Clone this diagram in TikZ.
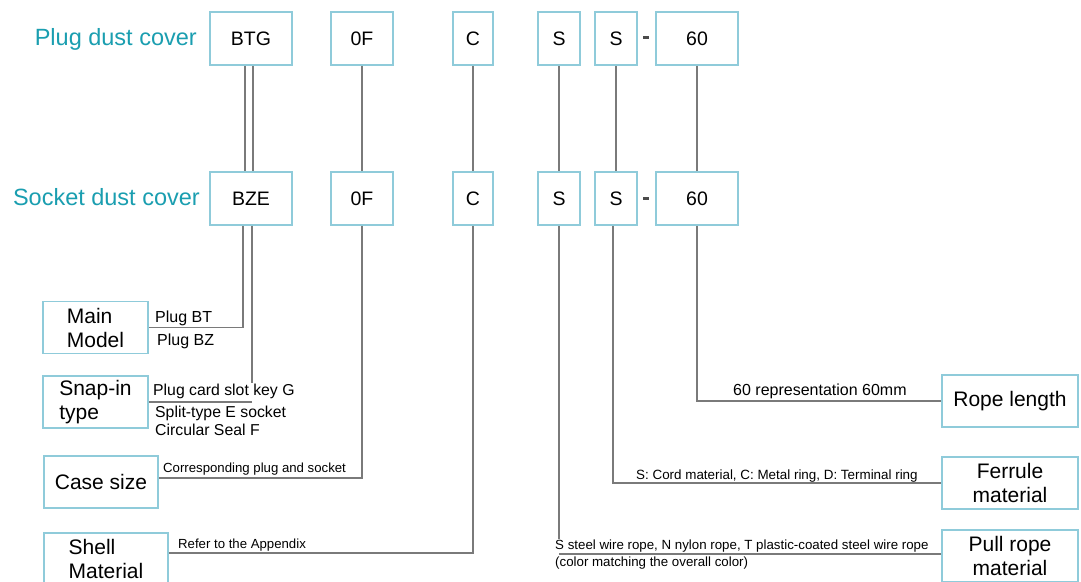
\documentclass[tikz,border=0pt]{standalone}
\usepackage{fontspec}
\setmainfont{Liberation Sans}
\usepackage{xcolor}
\usepackage{tikz}
\usetikzlibrary{positioning,calc}
\definecolor{cT}{HTML}{1A9EB0}
\definecolor{cB}{HTML}{8FCBDA}
\definecolor{cL}{HTML}{7A7A7A}
\tikzset{codebox/.style={draw=cB,line width=1.6pt,inner sep=0pt,minimum height=53pt,font=\fontsize{19.5}{22}\selectfont},
  descbox/.style={draw=cB,line width=1.6pt,inner sep=0pt,minimum height=52pt,font=\fontsize{21}{24}\selectfont},
  lead/.style={draw=cL,line width=1.4pt},
  tag/.style={anchor=base west,inner sep=0pt},
  dashmark/.style={fill=black!70,minimum width=6pt,minimum height=3pt,inner sep=0pt},
  title/.style={anchor=base east,inner sep=0pt,text=cT,font=\fontsize{23.5}{26}\selectfont}}

\begin{document}
\begin{tikzpicture}[x=1pt,y=-1pt]
  \useasboundingbox[fill=white] (0,0) rectangle (1081,581);
  % code rows
  \node[title] (plug) at (197,45) {Plug dust cover};
  \node[title] (sock) at (200,205) {Socket dust cover};
  \foreach \n/\x/\w/\t in {btg/251/82/BTG, fzt/362/62/0F, ct/473/40/C, sat/559/42/S, sbt/616/42/S, lt/697/82/60}
    \node[codebox,minimum width=\w pt] (\n) at (\x,38.5) {\t};
  \foreach \n/\x/\w/\t in {bze/251/82/BZE, fzb/362/62/0F, cb/473/40/C, sab/559/42/S, sbb/616/42/S, lb/697/82/60}
    \node[codebox,minimum width=\w pt] (\n) at (\x,198.5) {\t};
  \node[dashmark] (dt) at (646,37) {};
  \node[dashmark] (db) at (646,198) {};
  % description boxes
  \node[descbox,minimum width=105pt,align=left] (mainm) at (95.5,327.5) {Main\\Model};
  \node[descbox,minimum width=105pt,align=left] (snap) at (95.5,402) {Snap-in\\type};
  \node[descbox,minimum width=114pt] (csize) at (101,482) {Case size};
  \node[descbox,minimum width=124pt,align=left] (shell) at (106,559) {Shell\\Material};
  \node[descbox,minimum width=136pt] (rlen) at (1010,401) {Rope length};
  \node[descbox,minimum width=136pt,align=center] (ferr) at (1010,483) {Ferrule\\material};
  \node[descbox,minimum width=136pt,align=center] (pull) at (1010,556) {Pull rope\\material};
  % labels
  \node[tag,font=\fontsize{16}{18}\selectfont] (pbt) at (155,322.7) {Plug BT};
  \node[tag,font=\fontsize{16}{18}\selectfont] (pbz) at (157,345.7) {Plug BZ};
  \node[tag,font=\fontsize{15.8}{18}\selectfont] (sg) at (153,395) {Plug card slot key G};
  \node[tag,font=\fontsize{15.8}{18}\selectfont] (se) at (155,417) {Split-type E socket};
  \node[tag,font=\fontsize{15.8}{18}\selectfont] (sf) at (155,435.7) {Circular Seal F};
  \node[tag,font=\fontsize{13.2}{15}\selectfont] (cps) at (163,472.3) {Corresponding plug and socket};
  \node[tag,font=\fontsize{13.2}{15}\selectfont] (app) at (178,548.3) {Refer to the Appendix};
  \node[tag,font=\fontsize{16}{18}\selectfont] (rep) at (733,395) {60 representation 60mm};
  \node[tag,font=\fontsize{13.4}{17}\selectfont] (cord) at (636,479) {S: Cord material, C: Metal ring, D: Terminal ring};
  \node[tag,font=\fontsize{13.3}{15}\selectfont] (wire) at (555,549) {S steel wire rope, N nylon rope, T plastic-coated steel wire rope};
  \node[tag,font=\fontsize{13.3}{15}\selectfont] (wcol) at (555,566.5) {(color matching the overall color)};
  \coordinate (pturn) at ($(sab.south |- pull.west)+(0,-2)$);
  % leads
  \draw[lead] ([xshift=-6pt]btg.south) -- ([xshift=-6pt]bze.north) ([xshift=2pt]btg.south) -- ([xshift=2pt]bze.north);
  \foreach \a/\b in {fzt/fzb, ct/cb, sat/sab, sbt/sbb, lt/lb} \draw[lead] (\a) -- (\b);
  \draw[lead] ([xshift=-8pt]bze.south) |- (mainm.east);
  \draw[lead] ([xshift=1pt]bze.south) -- ([xshift=1pt]bze.south |- sg.north) ([xshift=1pt]bze.south |- snap.east) -- (snap.east);
  \draw[lead] (fzb.south) |- ([yshift=4pt]csize.east);
  \draw[lead] (cb.south) |- ([yshift=6pt]shell.east);
  \draw[lead] (lb.south) |- (rlen.west);
  \draw[lead] ([xshift=-3pt]sbb.south) |- (ferr.west);
  \draw[lead] (sab.south) -- (sab.south |- wire.north);
  \draw[lead] (pturn) -- (pturn -| pull.west);
\end{tikzpicture}
\end{document}
